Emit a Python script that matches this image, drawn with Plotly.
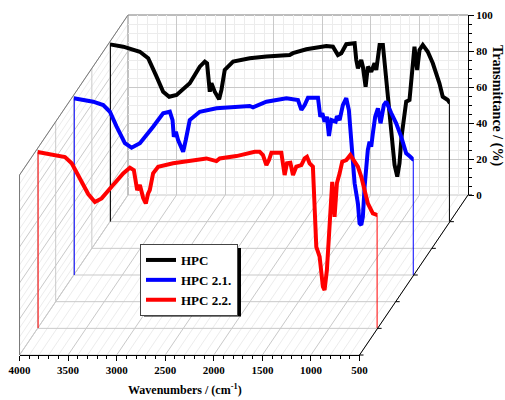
import plotly.graph_objects as go

# ---------------- data ----------------
names = ["HPC", "HPC 2.1.", "HPC 2.2."]
colors = ["#000000", "#0000ff", "#ff0000"]
depths = [1, 3, 5]

hpc_wn = [4000, 3863, 3692, 3606, 3520, 3452, 3390, 3314, 3178, 3075, 3023, 3000, 2972, 2955,
          2921, 2876, 2852, 2818, 2732, 2561, 2389, 2150, 2116, 1978, 1772, 1704, 1653, 1618,
          1567, 1481, 1464, 1447, 1413, 1396, 1368, 1345, 1310, 1276, 1258, 1224, 1190, 1156,
          1132, 1104, 1070, 1042, 1019, 998, 967, 950, 916, 892, 865, 837, 813, 779, 728, 676,
          608, 574, 522, 500]
hpc_t = [98.5, 97.2, 94.4, 90.8, 80.6, 72.2, 69.4, 70.4, 76.9, 86.1, 88.9, 88.0, 72.2, 76.9,
         72.2, 68.0, 73.2, 84.3, 88.9, 90.8, 91.7, 92.6, 93.6, 95.8, 97.6, 97.2, 92.6, 93.6,
         98.6, 99.1, 89.8, 85.2, 89.8, 86.1, 75.0, 86.1, 83.3, 88.0, 84.3, 98.2, 98.2, 78.7,
         62.0, 47.2, 31.5, 25.0, 32.4, 47.2, 60.2, 66.7, 67.6, 84.3, 97.2, 84.3, 95.4, 98.2,
         94.4, 88.0, 76.9, 69.4, 67.6, 65.8]

hpc21_wn = [4000, 3800, 3697, 3628, 3559, 3474, 3405, 3319, 3183, 3080, 3011, 2983, 2970, 2949,
            2926, 2874, 2847, 2806, 2703, 2531, 2189, 2155, 2017, 1811, 1692, 1657, 1623, 1589,
            1486, 1462, 1441, 1418, 1394, 1373, 1349, 1304, 1291, 1263, 1230, 1195, 1168, 1143,
            1109, 1075, 1058, 1040, 1024, 1006, 989, 973, 955, 938, 921, 897, 869, 842, 808, 783,
            732, 681, 629, 578, 544, 500]
hpc21_t = [98.2, 96.3, 94.4, 90.7, 82.4, 73.2, 70.7, 73.2, 82.4, 89.8, 90.7, 86.1, 76.8, 79.6,
           75.0, 68.5, 75.0, 86.1, 90.7, 92.6, 93.9, 93.2, 96.3, 98.2, 97.2, 91.7, 94.4, 98.5,
           98.5, 87.9, 89.8, 85.2, 87.9, 77.2, 86.1, 85.2, 88.3, 86.1, 94.4, 98.2, 91.7, 71.3,
           51.0, 39.8, 28.7, 27.8, 32.4, 49.1, 62.0, 69.4, 74.1, 71.3, 78.7, 88.0, 92.6, 84.3,
           94.4, 96.3, 90.0, 84.3, 76.8, 67.6, 66.1, 63.9]

hpc22_wn = [4000, 3873, 3718, 3649, 3564, 3479, 3410, 3341, 3238, 3119, 3050, 3009, 2975, 2947,
            2913, 2886, 2862, 2845, 2811, 2759, 2605, 2262, 2159, 2125, 1953, 1765, 1714, 1680,
            1645, 1618, 1593, 1491, 1457, 1433, 1398, 1371, 1337, 1285, 1251, 1227, 1200, 1166,
            1131, 1097, 1063, 1046, 1022, 994, 967, 943, 919, 891, 864, 822, 781, 737, 703, 668,
            634, 600, 549, 500]
hpc22_t = [98.0, 96.8, 95.2, 91.7, 82.9, 74.6, 70.2, 72.2, 78.7, 86.1, 89.2, 87.9, 76.8, 79.6,
           72.4, 69.4, 75.0, 76.8, 86.1, 89.8, 91.7, 94.4, 92.9, 94.4, 95.7, 98.1, 98.1, 96.3,
           90.7, 93.5, 97.6, 97.6, 85.2, 91.7, 92.0, 85.2, 89.8, 90.7, 94.4, 95.3, 91.7, 89.8,
           45.3, 39.8, 23.1, 21.3, 32.4, 62.0, 81.4, 62.0, 80.6, 86.1, 92.6, 93.5, 96.3, 92.6,
           89.8, 84.2, 76.8, 69.4, 63.9, 62.9]

wn_series = [hpc_wn, hpc21_wn, hpc22_wn]
t_series = [hpc_t, hpc21_t, hpc22_t]

x_ticks = [4000, 3500, 3000, 2500, 2000, 1500, 1000, 500]
y_ticks = [0, 20, 40, 60, 80, 100]

# ---------------- geometry of the oblique 3D box (pixels) ----------------
FIG_W, FIG_H = 505, 400
BX0, BX1 = 128.0, 468.0      # back wall left/right
BYT, BYB = 15.0, 195.0       # back wall top/bottom
DDX, DDY = -18.08, 26.67     # shift per depth unit
NDEP = 6
WN_HI, WN_LO = 4000, 500
SER_YMAX = 110               # series axes extend a little above 100 to avoid clipping

FONT = "Liberation Serif"


def fx(px):
    return px / FIG_W


def fy(py):
    return 1 - py / FIG_H


def proj(wn, t, d):
    px = BX0 + (WN_HI - wn) / (WN_HI - WN_LO) * (BX1 - BX0) + DDX * d
    py = BYB - t / 100 * (BYB - BYT) + DDY * d
    return fx(px), fy(py)


def xdom(d):
    return [fx(BX0 + DDX * d), fx(BX1 + DDX * d)]


def ydom(d, ymax):
    return [fy(BYB + DDY * d), fy(BYB + DDY * d - ymax / 100 * (BYB - BYT))]


fig = go.Figure()

# invisible anchors so that the back-wall and front-axis subplots get drawn
fig.add_trace(go.Scatter(x=x_ticks, y=[y_ticks[0]] * len(x_ticks), mode="markers",
                         marker=dict(opacity=0), xaxis="x", yaxis="y",
                         showlegend=False, hoverinfo="skip"))
fig.add_trace(go.Scatter(x=x_ticks, y=[y_ticks[0]] * len(x_ticks), mode="markers",
                         marker=dict(opacity=0), xaxis="x2", yaxis="y2",
                         showlegend=False, hoverinfo="skip"))

# series traces (each on its own axis pair, shifted in depth)
for i, (nm, col, d, wn, t) in enumerate(zip(names, colors, depths, wn_series, t_series)):
    k = i + 3
    xa, ya = f"x{k}", f"y{k}"
    fig.add_trace(go.Scatter(
        x=[wn[0], wn[0], None, wn[-1], wn[-1]],
        y=[0, t[0], None, 0, t[-1]],
        mode="lines", line=dict(color=col, width=2),
        xaxis=xa, yaxis=ya, showlegend=False, hoverinfo="skip"))
    fig.add_trace(go.Scatter(
        x=wn, y=t, mode="lines", name=nm,
        line=dict(color=col, width=4),
        xaxis=xa, yaxis=ya))

tick_font = dict(family=FONT, size=11, color="black", weight="bold")

layout = dict(
    width=FIG_W, height=FIG_H,
    margin=dict(l=0, r=0, t=0, b=0, pad=0, autoexpand=False),
    paper_bgcolor="white", plot_bgcolor="rgba(0,0,0,0)",
    showlegend=True,
    # back wall
    xaxis=dict(domain=xdom(0), range=[WN_HI, WN_LO], anchor="y", automargin=False,
               showticklabels=False, ticks="", showline=False, zeroline=False,
               tick0=500, dtick=500, showgrid=True, gridcolor="#c9c9c9", gridwidth=1,
               minor=dict(dtick=100, showgrid=True, gridcolor="#ececec", ticks=""),
               fixedrange=True),
    yaxis=dict(domain=ydom(0, 100), range=[0, 100], anchor="x", side="right",
               automargin=False,
               tickvals=y_ticks, ticks="outside", ticklen=5, tickcolor="black",
               showline=True, linecolor="black", linewidth=1, zeroline=False,
               showgrid=True, gridcolor="#c9c9c9",
               minor=dict(dtick=5, showgrid=True, gridcolor="#ececec", ticks="outside",
                          ticklen=3, tickcolor="black"),
               tickfont=tick_font, fixedrange=True),
    # front (floor) edge with the wavenumber axis
    xaxis2=dict(domain=xdom(NDEP), range=[WN_HI, WN_LO], anchor="y2", side="bottom",
                automargin=False,
                tickvals=x_ticks, ticks="outside", ticklen=5, tickcolor="black",
                showline=True, linecolor="black", linewidth=1, showgrid=False, zeroline=False,
                minor=dict(dtick=100, ticks="outside", ticklen=3, tickcolor="black"),
                tickfont=tick_font, fixedrange=True),
    yaxis2=dict(domain=ydom(NDEP, 100), range=[0, 100], anchor="x2", visible=False,
                automargin=False, fixedrange=True),
    legend=dict(x=fx(140), y=fy(244), xanchor="left", yanchor="top",
                bgcolor="white", bordercolor="#444", borderwidth=1,
                font=dict(family=FONT, size=13, color="black", weight="bold"),
                tracegroupgap=0, itemwidth=30),
)
for i, d in enumerate(depths):
    k = i + 3
    layout[f"xaxis{k}"] = dict(domain=xdom(d), range=[WN_HI, WN_LO], anchor=f"y{k}",
                               visible=False, automargin=False, fixedrange=True)
    layout[f"yaxis{k}"] = dict(domain=ydom(d, SER_YMAX), range=[0, SER_YMAX], anchor=f"x{k}",
                               visible=False, automargin=False, fixedrange=True)
fig.update_layout(**layout)

# ---------------- box decorations (walls and floor grid) ----------------
shapes = []


def seg(a, b, color, width=1, layer="below"):
    shapes.append(dict(type="line", xref="paper", yref="paper",
                       x0=a[0], y0=a[1], x1=b[0], y1=b[1],
                       line=dict(color=color, width=width), layer=layer))


MAJ, MIN_ = "#c9c9c9", "#ececec"
# left wall: lines of constant transmittance (diagonals)
for t in range(0, 101, 5):
    if t % 20:
        seg(proj(WN_HI, t, 0), proj(WN_HI, t, NDEP), MIN_)
for t in range(0, 101, 20):
    seg(proj(WN_HI, t, 0), proj(WN_HI, t, NDEP), MAJ)
# floor: lines of constant wavenumber (diagonals)
for wn in range(WN_LO, WN_HI + 1, 100):
    if wn % 500:
        seg(proj(wn, 0, 0), proj(wn, 0, NDEP), MIN_)
for wn in x_ticks:
    seg(proj(wn, 0, 0), proj(wn, 0, NDEP), MAJ)
# left wall verticals and floor horizontals at each depth step
for d in range(NDEP + 1):
    seg(proj(WN_HI, 0, d), proj(WN_HI, 100, d), MAJ)
    seg(proj(WN_HI, 0, d), proj(WN_LO, 0, d), MAJ)
# box edges
EDGE = "#7a7a7a"
seg(proj(WN_HI, 100, 0), proj(WN_LO, 100, 0), EDGE)
seg(proj(WN_HI, 100, 0), proj(WN_HI, 100, NDEP), EDGE)
seg(proj(WN_HI, 0, NDEP), proj(WN_HI, 100, NDEP), EDGE)
seg(proj(WN_HI, 0, 0), proj(WN_HI, 100, 0), "#a0a0a0")
# right depth axis (black) with small ticks
seg(proj(WN_LO, 0, 0), proj(WN_LO, 0, NDEP), "black", 1, "above")
for d in range(NDEP + 1):
    a = proj(WN_LO, 0, d)
    seg(a, (a[0] + 4 / FIG_W, a[1]), "black", 1, "above")

# legend shadow (offset to the right and below the legend box)
shapes.append(dict(type="rect", xref="paper", yref="paper",
                   x0=fx(144), x1=fx(241), y0=fy(316.5), y1=fy(248),
                   fillcolor="black", line=dict(width=0), layer="above"))
fig.update_layout(shapes=shapes)

fig.add_annotation(text="Transmittance / (%)", x=fx(497), y=fy(105), xref="paper", yref="paper",
                   xanchor="center", yanchor="middle",
                   textangle=90, showarrow=False,
                   font=dict(family=FONT, size=14, color="black", weight="bold"))
fig.add_annotation(text="Wavenumbers / (cm<sup>-1</sup>)", x=fx(185), y=fy(389),
                   xref="paper", yref="paper", xanchor="center", yanchor="middle",
                   showarrow=False,
                   font=dict(family=FONT, size=12, color="black", weight="bold"))

fig.write_html("out.html", config={"displayModeBar": False},
               post_script="document.body.style.margin='0px';")
